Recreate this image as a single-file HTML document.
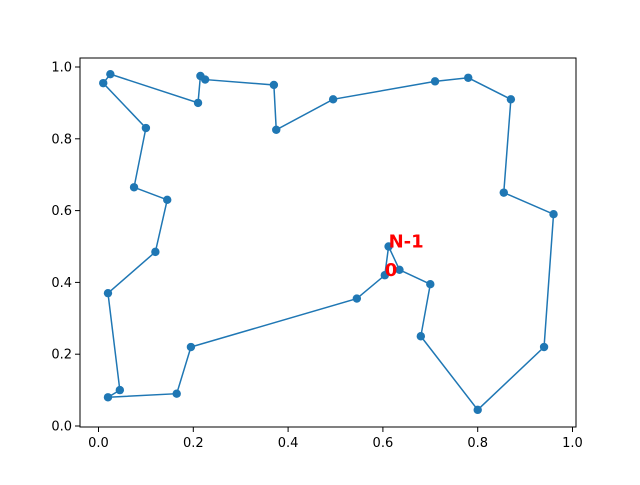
<!DOCTYPE html>
<html><head><meta charset="utf-8"><style>
body{margin:0;background:#fff;}
text{font-family:"DejaVu Sans","Liberation Sans",sans-serif;}
</style></head><body>
<svg id="chart" width="640" height="480" xmlns="http://www.w3.org/2000/svg">
<rect width="640" height="480" fill="#fff"/>
<g id="axes"></g>
<g id="marks"></g>
</svg>
<script>
const xs=[0.604,0.545,0.195,0.165,0.02,0.045,0.02,0.12,0.145,0.075,0.10,0.01,0.025,0.21,0.215,0.225,0.37,0.375,0.495,0.71,0.78,0.87,0.855,0.96,0.94,0.80,0.68,0.70,0.635,0.612];
const ys=[0.42,0.355,0.22,0.09,0.08,0.10,0.37,0.485,0.63,0.665,0.83,0.955,0.98,0.9,0.975,0.965,0.95,0.825,0.91,0.96,0.97,0.91,0.65,0.59,0.22,0.045,0.25,0.395,0.435,0.50];
const xTicks=[0,0.2,0.4,0.6,0.8,1.0];
const yTicks=[0,0.2,0.4,0.6,0.8,1.0];
const xTickLabels=["0.0","0.2","0.4","0.6","0.8","1.0"];
const yTickLabels=["0.0","0.2","0.4","0.6","0.8","1.0"];
const NS="http://www.w3.org/2000/svg";
const X=v=>98.5+474*v, Y=v=>426-359*v;
function mk(t,a,p){const e=document.createElementNS(NS,t);for(const k in a)e.setAttribute(k,a[k]);p.appendChild(e);return e;}
const ax=document.getElementById('axes'), mg=document.getElementById('marks');
const frame=mk('rect',{x:80,y:58,width:496,height:369,fill:'none',stroke:'#000','stroke-width':1},ax);


xTicks.forEach((v,i)=>{
  const l=mk('line',{x1:X(v),x2:X(v),y1:427,y2:432,stroke:'#000'},ax);
  
  
  const t=mk('text',{x:X(v),y:447,'font-size':13,'text-anchor':'middle'},ax);
  t.textContent=xTickLabels[i];
  
  
});
yTicks.forEach((v,i)=>{
  const l=mk('line',{x1:75,x2:80,y1:Y(v),y2:Y(v),stroke:'#000'},ax);
  
  
  const t=mk('text',{x:72,y:Y(v)+4.5,'font-size':13,'text-anchor':'end'},ax);
  t.textContent=yTickLabels[i];
  
  
});
let d='';
xs.forEach((v,i)=>{d+=(i?'L':'M')+X(v)+','+Y(ys[i]);});
d+='L'+X(xs[0])+','+Y(ys[0]);
const path=mk('path',{d:d,fill:'none',stroke:'#1f77b4','stroke-width':1.5},mg);


xs.forEach((v,i)=>{
  const c=mk('circle',{cx:X(v),cy:Y(ys[i]),r:4.2,fill:'#1f77b4'},mg);
  
  
});
const n=xs.length-1;
const t0=mk('text',{x:X(xs[0]),y:Y(ys[0])+1,fill:'red','font-size':18,'font-weight':'bold'},mg);
t0.textContent='0';


const t1=mk('text',{x:X(xs[n]),y:Y(ys[n])+1,fill:'red','font-size':18,'font-weight':'bold'},mg);
t1.textContent='N-1';


</script>
</body></html>
